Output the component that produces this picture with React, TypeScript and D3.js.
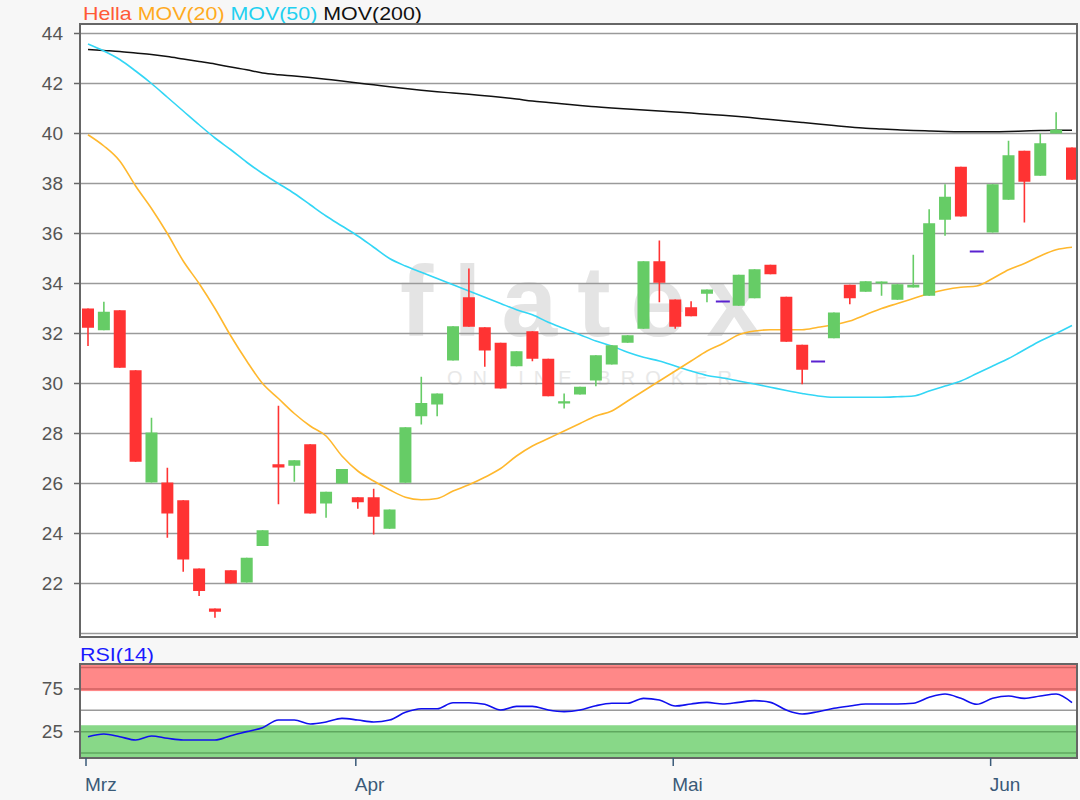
import React from 'react';
import * as d3 from 'd3';

// ---- Data (Hella, daily candles) ----
const opens = [33.0, 32.13, 32.93, 30.53, 26.04, 26.04, 25.33, 22.6, 21.0, 22.53, 22.04, 23.5, 26.77, 26.71, 27.57, 25.2, 26.0, 25.45, 25.45, 24.19, 26.03, 28.69, 29.16, 30.92, 33.45, 32.25, 31.63, 30.69, 32.09, 30.99, 29.2, 29.56, 30.12, 30.76, 31.63, 32.19, 34.89, 33.36, 33.05, 33.59, 33.28, 33.11, 33.41, 34.75, 33.47, 31.55, 30.88, 31.81, 33.95, 33.67, 34.01, 33.35, 33.84, 33.51, 36.55, 38.67, 35.28, 36.04, 37.35, 39.31, 38.31, 40.0, 39.44];
const highs = [33.0, 33.27, 32.93, 30.53, 28.63, 26.63, 25.33, 22.6, 21.0, 22.53, 23.03, 24.13, 29.11, 26.93, 27.57, 25.67, 26.58, 25.45, 25.79, 24.96, 28.25, 30.27, 29.6, 32.29, 34.6, 32.25, 31.63, 31.29, 32.09, 30.99, 29.6, 29.87, 31.13, 31.53, 31.93, 34.89, 35.72, 33.36, 33.29, 33.76, 33.28, 34.35, 34.57, 34.75, 33.47, 31.55, 30.88, 32.84, 33.95, 34.09, 34.08, 33.97, 35.15, 36.97, 37.97, 38.67, 35.28, 37.97, 39.71, 39.31, 40.0, 40.85, 39.44];
const lows = [31.5, 32.13, 30.63, 26.87, 26.04, 23.83, 22.47, 21.5, 20.63, 22.0, 22.04, 23.5, 25.17, 26.07, 24.8, 24.63, 26.0, 24.99, 23.96, 24.19, 26.03, 28.36, 28.69, 30.92, 32.27, 30.67, 29.8, 30.69, 30.89, 29.49, 29.0, 29.56, 29.89, 30.76, 31.63, 32.19, 33.25, 32.19, 32.69, 33.25, 33.28, 33.11, 33.41, 34.37, 31.67, 29.97, 30.88, 31.81, 33.17, 33.67, 33.51, 33.35, 33.84, 33.51, 35.91, 36.68, 35.28, 36.04, 37.35, 36.44, 38.31, 40.0, 38.15];
const closes = [32.23, 32.87, 30.63, 26.87, 28.04, 24.8, 22.96, 21.7, 20.87, 22.0, 23.03, 24.13, 26.64, 26.93, 24.8, 25.67, 26.58, 25.25, 24.67, 24.96, 28.25, 29.22, 29.6, 32.29, 32.27, 31.32, 29.8, 31.29, 30.99, 29.49, 29.29, 29.87, 31.13, 31.53, 31.93, 34.89, 34.03, 32.27, 32.69, 33.76, 33.28, 34.35, 34.57, 34.37, 31.67, 30.55, 30.88, 32.84, 33.41, 34.09, 34.08, 33.97, 33.95, 36.41, 37.47, 36.68, 35.28, 37.97, 39.13, 38.07, 39.61, 40.15, 38.15];

const mov20 = [39.95, 39.5, 38.9, 37.9, 37.0, 36.0, 34.9, 34.0, 33.0, 31.9, 30.9, 30.0, 29.4, 28.8, 28.3, 27.9, 27.1, 26.5, 26.1, 25.75, 25.45, 25.35, 25.4, 25.7, 25.95, 26.25, 26.6, 27.1, 27.5, 27.8, 28.1, 28.4, 28.7, 28.9, 29.3, 29.7, 30.1, 30.5, 30.9, 31.3, 31.6, 31.95, 32.1, 32.15, 32.15, 32.15, 32.25, 32.35, 32.5, 32.75, 33.0, 33.2, 33.4, 33.6, 33.75, 33.85, 33.9, 34.2, 34.55, 34.8, 35.1, 35.35, 35.45];
const mov50 = [43.58, 43.3, 42.96, 42.5, 42.0, 41.45, 40.9, 40.35, 39.82, 39.35, 38.85, 38.4, 38.0, 37.6, 37.15, 36.7, 36.3, 35.9, 35.45, 35.0, 34.7, 34.45, 34.2, 33.95, 33.7, 33.45, 33.2, 32.95, 32.75, 32.45, 32.2, 31.95, 31.7, 31.5, 31.25, 31.05, 30.9, 30.7, 30.5, 30.32, 30.22, 30.1, 29.98, 29.85, 29.72, 29.6, 29.5, 29.45, 29.45, 29.45, 29.45, 29.47, 29.5, 29.7, 29.9, 30.1, 30.4, 30.7, 31.0, 31.35, 31.7, 32.0, 32.32];
const mov200 = [43.36, 43.32, 43.28, 43.22, 43.16, 43.08, 42.98, 42.88, 42.78, 42.66, 42.55, 42.42, 42.35, 42.3, 42.24, 42.17, 42.1, 42.02, 41.95, 41.87, 41.8, 41.73, 41.67, 41.62, 41.57, 41.51, 41.45, 41.38, 41.3, 41.24, 41.18, 41.12, 41.07, 41.02, 40.98, 40.94, 40.9, 40.86, 40.82, 40.77, 40.73, 40.68, 40.62, 40.56, 40.5, 40.44, 40.38, 40.32, 40.26, 40.21, 40.18, 40.15, 40.12, 40.1, 40.08, 40.07, 40.07, 40.07, 40.08, 40.1, 40.12, 40.13, 40.13];
const rsi = [19.1, 22.2, 19.1, 15.2, 19.9, 17.2, 15.2, 15.2, 15.2, 20.3, 25.0, 29.7, 38.6, 38.6, 34.0, 36.3, 40.6, 38.6, 36.3, 38.6, 47.6, 51.9, 51.9, 58.9, 58.9, 57.0, 50.3, 54.6, 54.6, 50.3, 48.4, 50.3, 55.4, 58.2, 58.2, 64.0, 62.1, 55.0, 57.4, 59.3, 57.4, 59.3, 61.3, 59.3, 50.3, 45.7, 48.4, 52.3, 55.0, 57.4, 57.4, 57.4, 58.2, 65.2, 69.1, 64.0, 57.0, 64.0, 66.7, 64.0, 66.7, 69.1, 58.9];

const priceTicks = [22, 24, 26, 28, 30, 32, 34, 36, 38, 40, 42, 44];
const priceGrid = [20, 22, 24, 26, 28, 30, 32, 34, 36, 38, 40, 42, 44];
const rsiTicks = [25, 75];
const monthIdx = [0, 17, 37, 57];
const monthLabels = ['Mrz', 'Apr', 'Mai', 'Jun'];

const FONT = '"Liberation Sans", Arial, sans-serif';

export default function App() {
  const W = 1080, H = 800;
  const L = 80, R = 1077, T = 24, B = 637;
  const RT = 664, RB = 758;
  const n = opens.length;
  const x = d3.scaleLinear().domain([0, n - 1]).range([88, 1072]);
  const y = d3.scaleLinear().domain([20, 44]).range([633.5, 33.5]);
  const ry = d3.scaleLinear().domain([0, 100]).range([753, 667.6]);
  const mk = (arr: number[]) =>
    d3.line<number>().x((_, i) => x(i)).y((d) => y(d)).curve(d3.curveMonotoneX)(arr) || '';
  const rsiPath =
    d3.line<number>().x((_, i) => x(i)).y((d) => ry(d)).curve(d3.curveMonotoneX)(rsi) || '';
  const bw = 12;

  return (
    <svg width={W} height={H} style={{ position: 'absolute', left: 0, top: 0, display: 'block' }} fontFamily={FONT}>
      <rect x={0} y={0} width={W} height={H} fill="#f7f7f7" />
      {/* legend */}
      <text x={83} y={20} fontSize={18.5} textLength={339} lengthAdjust="spacingAndGlyphs">
        <tspan fill="#ff5a36">Hella</tspan>
        <tspan fill="#ffaa1e"> MOV(20)</tspan>
        <tspan fill="#22d0f0"> MOV(50)</tspan>
        <tspan fill="#111"> MOV(200)</tspan>
      </text>
      {/* main panel */}
      <rect x={L} y={T} width={R - L} height={B - T} fill="#fff" />
      {/* watermark */}
      <text x={400} y={336} fontSize={100} fontWeight="bold" fill="#e4e4e4" textLength={362} lengthAdjust="spacing">flatex</text>
      <text x={447} y={385} fontSize={20} fill="#e8e8e8" textLength={285} lengthAdjust="spacing">ONLINE BROKER</text>
      {priceGrid.map((v) => (
        <line key={v} x1={L} x2={R} y1={y(v)} y2={y(v)} stroke="#9a9a9a" strokeWidth={1.6} />
      ))}
      {priceTicks.map((v) => (
        <g key={v}>
          <line x1={L - 6} x2={L} y1={y(v)} y2={y(v)} stroke="#666" strokeWidth={1.5} />
          <text x={63} y={y(v) + 6.5} fontSize={19} fill="#555" textAnchor="end">{v}</text>
        </g>
      ))}
      {/* moving averages */}
      <path d={mk(mov200)} fill="none" stroke="#111" strokeWidth={1.5} />
      <path d={mk(mov50)} fill="none" stroke="#33d6f5" strokeWidth={1.6} />
      <path d={mk(mov20)} fill="none" stroke="#ffb82e" strokeWidth={1.6} />
      {/* candles */}
      {opens.map((o, i) => {
        const c = closes[i];
        const cx = x(i);
        if (o === c) {
          return <line key={i} x1={cx - 7} x2={cx + 7} y1={y(o)} y2={y(o)} stroke="#5a22d0" strokeWidth={2} />;
        }
        const col = c > o ? '#66cc66' : '#ff3333';
        const top = y(Math.max(o, c));
        const bot = y(Math.min(o, c));
        return (
          <g key={i}>
            <line x1={cx} x2={cx} y1={y(highs[i])} y2={y(lows[i])} stroke={col} strokeWidth={1.6} />
            <rect x={cx - bw / 2} y={top} width={bw} height={Math.max(bot - top, 2)} fill={col} />
          </g>
        );
      })}
      <rect x={L} y={T} width={R - L} height={B - T} fill="none" stroke="#666" strokeWidth={2} />

      {/* RSI panel */}
      <text x={80} y={661} fontSize={18} fill="#1a1aff" textLength={74} lengthAdjust="spacingAndGlyphs">RSI(14)</text>
      <rect x={L} y={RT} width={R - L} height={RB - RT} fill="#fff" />
      <rect x={L} y={RT} width={R - L} height={ry(72.5) - RT} fill="#ff8888" />
      <rect x={L} y={ry(32.5)} width={R - L} height={RB - ry(32.5)} fill="#88d888" />
      <line x1={L} x2={R} y1={ry(100)} y2={ry(100)} stroke="#d06060" strokeWidth={1.5} />
      <line x1={L} x2={R} y1={ry(75)} y2={ry(75)} stroke="#d06060" strokeWidth={1.5} />
      <line x1={L} x2={R} y1={ry(50)} y2={ry(50)} stroke="#9a9a9a" strokeWidth={1.5} />
      <line x1={L} x2={R} y1={ry(25)} y2={ry(25)} stroke="#5fa85f" strokeWidth={1.5} />
      <line x1={L} x2={R} y1={ry(0)} y2={ry(0)} stroke="#5fa85f" strokeWidth={1.5} />
      {rsiTicks.map((v) => (
        <g key={v}>
          <line x1={L - 6} x2={L} y1={ry(v)} y2={ry(v)} stroke="#666" strokeWidth={1.5} />
          <text x={63} y={ry(v) + 6.5} fontSize={19} fill="#555" textAnchor="end">{v}</text>
        </g>
      ))}
      <path d={rsiPath} fill="none" stroke="#1010ee" strokeWidth={1.6} />
      <rect x={L} y={RT} width={R - L} height={RB - RT} fill="none" stroke="#666" strokeWidth={2} />

      {/* x axis */}
      {monthIdx.map((m, k) => (
        <g key={m}>
          <line x1={x(m) - 2} x2={x(m) - 2} y1={RB} y2={RB + 8} stroke="#3a5a78" strokeWidth={1.5} />
          <text x={x(m) - 3} y={791} fontSize={19} fill="#3a5a78">{monthLabels[k]}</text>
        </g>
      ))}
    </svg>
  );
}
